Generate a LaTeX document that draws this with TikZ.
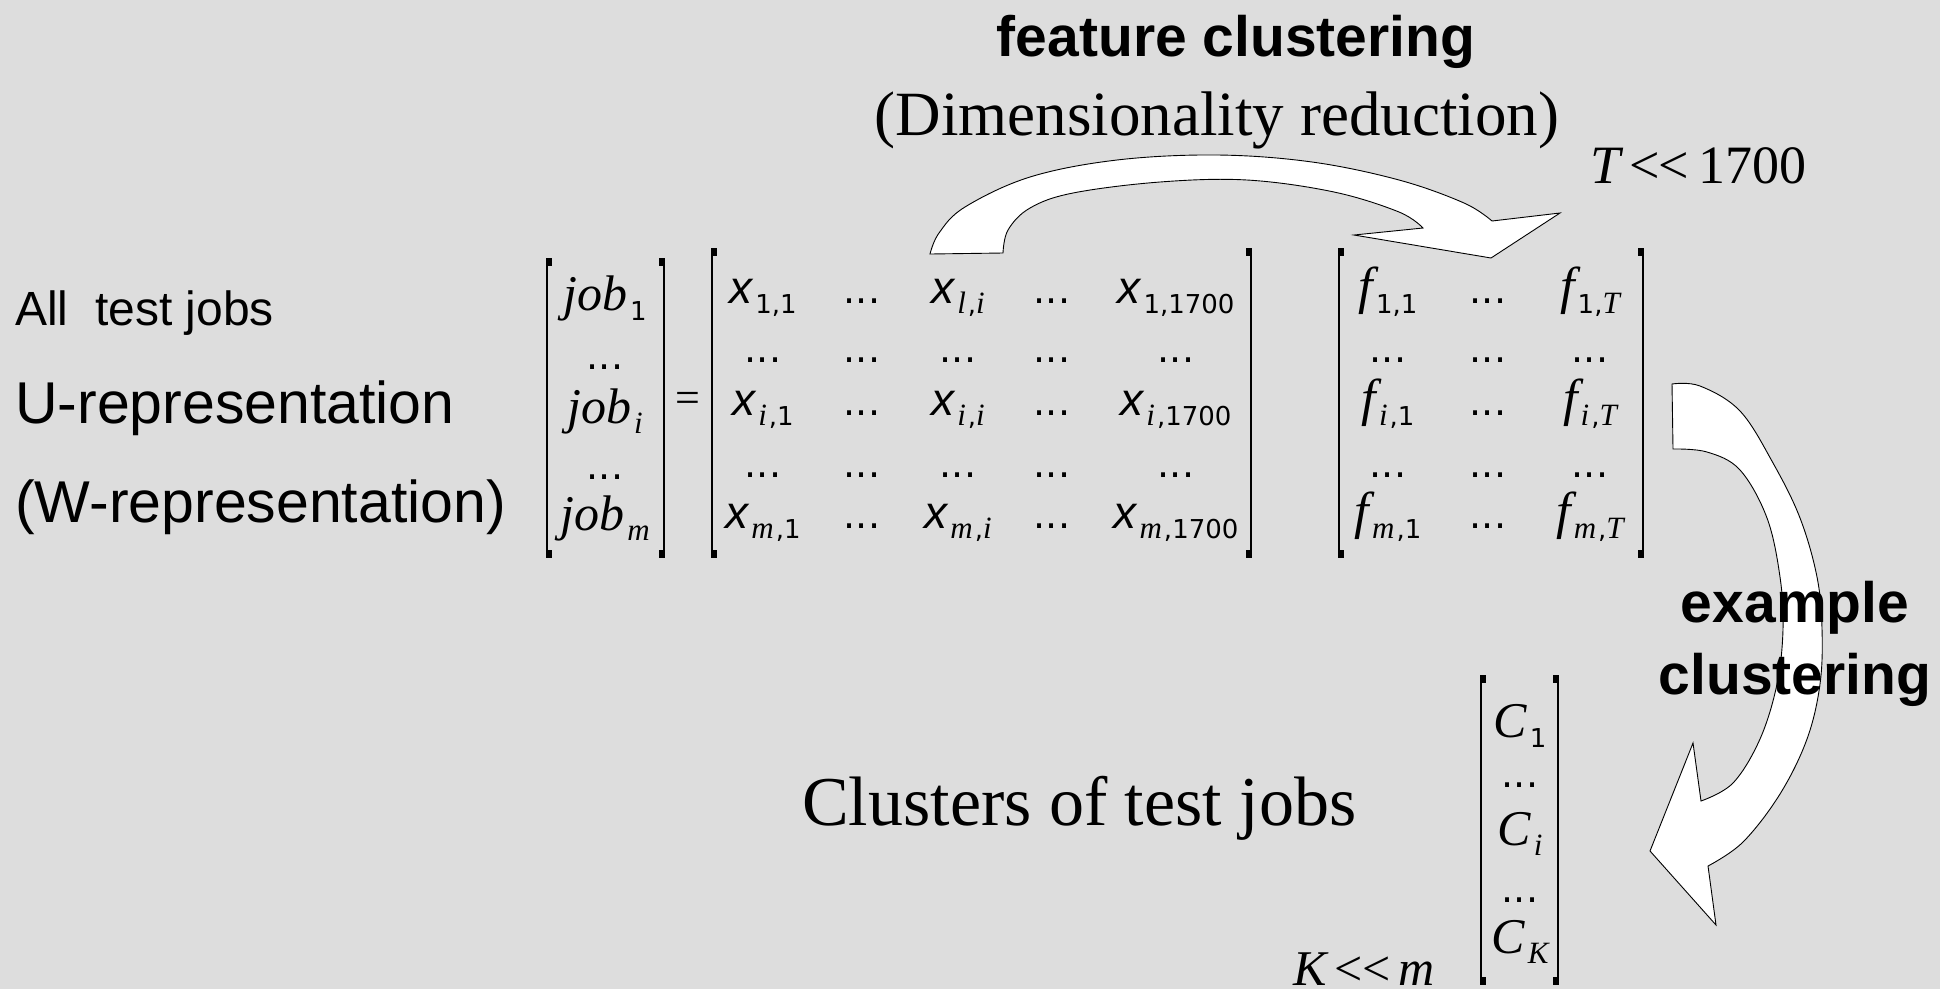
\documentclass[tikz,border=0pt]{standalone}
\usepackage{fontspec}
\setmainfont{Liberation Serif}
\newfontfamily\lsans{Liberation Sans}
\newfontfamily\dvs{DejaVu Sans}
\definecolor{bg}{HTML}{DDDDDD}
\newcommand\FS[1]{\fontsize{#1}{#1}\selectfont}
\newcommand\Dg[1]{{\dvs\FS{26}#1}}
\newcommand\Si[1]{{\itshape\FS{31}#1}}
\newcommand\Sb[1]{\kern3pt\raisebox{-10pt}{#1}}
\newcommand\Xv{{\lsans\itshape\FS{46}x}}
\newcommand\Fv{{\itshape\FS{52}f}}
\newcommand\Job{{\itshape\FS{50}job}}
\newcommand\Cv{{\itshape\FS{50}C}}
\newcommand\Dd{{\dvs\FS{38}...}}
\newcommand\LBr[3]{\draw[bracket] (#1,#2) -- (#1,#3); \fill (#1-1.25,#2) rectangle (#1+5,#2+8); \fill (#1-1.25,#3) rectangle (#1+5,#3-8);}
\newcommand\RBr[3]{\draw[bracket] (#1,#2) -- (#1,#3); \fill (#1+1.25,#2) rectangle (#1-5,#2+8); \fill (#1+1.25,#3) rectangle (#1-5,#3-8);}
\tikzset{
  ent/.style={anchor=base, inner sep=0pt},
  lbl/.style={anchor=base west, inner sep=0pt},
  ctr/.style={anchor=base, inner sep=0pt},
  blockarrow/.style={fill=white, draw=black, line width=0.9pt, line join=miter},
  bracket/.style={line width=2.5pt},
}
\begin{document}
\begin{tikzpicture}[x=1pt,y=-1pt]
\fill[bg] (0,0) rectangle (1940,989);
\useasboundingbox (0,0) rectangle (1940,989);

% ---- curved block arrows ----
\filldraw[blockarrow] plot[smooth, tension=0.6] coordinates {(930,254) (939,233) (965,207) (1030,177) (1117,160) (1217,155) (1312,162) (1399,180) (1464,203) (1492,221)}
  -- (1560,213) -- (1491,258) -- (1354,235) -- (1423,228)
  -- plot[smooth, tension=0.6] coordinates {(1423,228) (1399,212) (1334,192) (1247,180) (1160,182) (1073,193) (1030,208) (1008,230) (1003,253)}
  -- cycle;
\filldraw[blockarrow] plot[smooth, tension=0.6] coordinates {(1672,384) (1700,386) (1740,411) (1773,463) (1800,518) (1817,577) (1822,629) (1820,684) (1807,739) (1780,794) (1743,842) (1708,866)}
  -- (1716,925) -- (1650,851) -- (1693,743) -- (1701,801)
  -- plot[smooth, tension=0.6] coordinates {(1701,801) (1733,783) (1760,739) (1777,684) (1783,629) (1780,577) (1767,518) (1740,470) (1707,452) (1673,449)}
  -- cycle;

% ---- left labels ----
\node[lbl] (alljobs) at (15,325) {\lsans\FS{48}All\ \ test jobs};
\node[lbl] (urep) at (15,423) {\lsans\FS{59}U-representation};
\node[lbl] (wrep) at (15,522) {\lsans\FS{59}(W-representation)};

% ---- top labels ----
\node[ctr] (featclust) at (1236,56) {\lsans\bfseries\FS{57}feature clustering};
\node[ctr] (dimred) at (1217,135) {\FS{63}(Dimensionality reduction)};
\node[lbl] (tcond) at (1590,183) {\FS{54}{\itshape T}\,<\kern-1pt<\,1700};

% ---- job vector ----
\LBr{547}{258}{558}
\RBr{664}{258}{558}
\node[ent] (j1) at (605,310) {\Job\Sb{\Dg{1}}};
\node[ent] (j2) at (605,369) {\Dd};
\node[ent] (j3) at (605,423) {\Job\Sb{\Si{i}}};
\node[ent] (j4) at (605,479) {\Dd};
\node[ent] (j5) at (605,530) {\Job\Sb{\Si{m}}};
\node (eq) at (688,402) {\FS{44}=};

% ---- x matrix ----
\LBr{712}{248}{558}
\RBr{1251}{248}{558}
\node[ent] (x11) at (763,303) {\Xv\Sb{\Dg{1,1}}};
\node[ent] (x12) at (862,303) {\Dd};
\node[ent] (x13) at (958,303) {\Xv\Sb{\Si{l}\kern2pt\Dg{,}\Si{i}}};
\node[ent] (x14) at (1052,303) {\Dd};
\node[ent] (x15) at (1176,303) {\Xv\Sb{\Dg{1,1700}}};
\node[ent] (x21) at (763,362) {\Dd};
\node[ent] (x22) at (862,362) {\Dd};
\node[ent] (x23) at (958,362) {\Dd};
\node[ent] (x24) at (1052,362) {\Dd};
\node[ent] (x25) at (1176,362) {\Dd};
\node[ent] (x31) at (763,415) {\Xv\Sb{\Si{i}\kern2pt\Dg{,1}}};
\node[ent] (x32) at (862,415) {\Dd};
\node[ent] (x33) at (958,415) {\Xv\Sb{\Si{i}\kern2pt\Dg{,}\Si{i}}};
\node[ent] (x34) at (1052,415) {\Dd};
\node[ent] (x35) at (1176,415) {\Xv\Sb{\Si{i}\kern2pt\Dg{,1700}}};
\node[ent] (x41) at (763,477) {\Dd};
\node[ent] (x42) at (862,477) {\Dd};
\node[ent] (x43) at (958,477) {\Dd};
\node[ent] (x44) at (1052,477) {\Dd};
\node[ent] (x45) at (1176,477) {\Dd};
\node[ent] (x51) at (763,528) {\Xv\Sb{\Si{m}\kern2pt\Dg{,1}}};
\node[ent] (x52) at (862,528) {\Dd};
\node[ent] (x53) at (958,528) {\Xv\Sb{\Si{m}\kern2pt\Dg{,}\Si{i}}};
\node[ent] (x54) at (1052,528) {\Dd};
\node[ent] (x55) at (1176,528) {\Xv\Sb{\Si{m}\kern2pt\Dg{,1700}}};

% ---- f matrix ----
\LBr{1339}{248}{558}
\RBr{1643}{248}{558}
\node[ent] (f11) at (1388,303) {\Fv\Sb{\Dg{1,1}}};
\node[ent] (f12) at (1488,303) {\Dd};
\node[ent] (f13) at (1590,303) {\Fv\Sb{\Dg{1,}\Si{T}}};
\node[ent] (f21) at (1388,362) {\Dd};
\node[ent] (f22) at (1488,362) {\Dd};
\node[ent] (f23) at (1590,362) {\Dd};
\node[ent] (f31) at (1388,415) {\Fv\Sb{\Si{i}\kern2pt\Dg{,1}}};
\node[ent] (f32) at (1488,415) {\Dd};
\node[ent] (f33) at (1590,415) {\Fv\Sb{\Si{i}\kern2pt\Dg{,}\Si{T}}};
\node[ent] (f41) at (1388,477) {\Dd};
\node[ent] (f42) at (1488,477) {\Dd};
\node[ent] (f43) at (1590,477) {\Dd};
\node[ent] (f51) at (1388,528) {\Fv\Sb{\Si{m}\kern2pt\Dg{,1}}};
\node[ent] (f52) at (1488,528) {\Dd};
\node[ent] (f53) at (1590,528) {\Fv\Sb{\Si{m}\kern2pt\Dg{,}\Si{T}}};

% ---- example clustering label ----
\node[ctr] (exlbl1) at (1795,622) {\lsans\bfseries\FS{57}example};
\node[ctr] (exlbl2) at (1795,694) {\lsans\bfseries\FS{57}clustering};

% ---- clusters ----
\node[lbl] (clusters) at (802,825) {\FS{70}Clusters of test jobs};
\LBr{1481}{675}{985}
\RBr{1558}{675}{985}
\node[ent] (c1) at (1520,737) {\Cv\Sb{\Dg{1}}};
\node[ent] (c2) at (1520,787) {\Dd};
\node[ent] (c3) at (1520,845) {\Cv\Sb{\Si{i}}};
\node[ent] (c4) at (1520,902) {\Dd};
\node[ent] (c5) at (1520,953) {\Cv\Sb{\Si{K}}};
\node[lbl] (kcond) at (1293,985) {\FS{50}{\itshape K}\,<\kern-1pt<\,{\itshape m}};
\end{tikzpicture}
\end{document}
